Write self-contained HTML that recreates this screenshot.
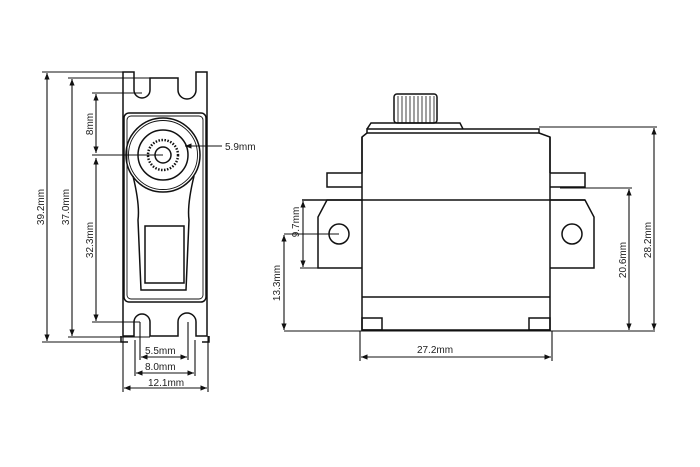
<!DOCTYPE html>
<html><head><style>body{margin:0;background:#fff}svg{display:block}text{font-family:"Liberation Sans",sans-serif;font-size:10px;fill:#222}</style></head>
<body>
<svg width="700" height="467" viewBox="0 0 700 467" xmlns="http://www.w3.org/2000/svg">
<defs><marker id="a" viewBox="0 0 10 10" refX="10" refY="5" markerWidth="6" markerHeight="6" orient="auto-start-reverse"><path d="M0,1 L10,5 L0,9 z" fill="#111"/></marker></defs>
<g fill="none" stroke="#111" stroke-width="1.5">
<!-- LEFT VIEW plate -->
<path d="M123,72 H134 V90 A8,8 0 1 0 150,90 V78 H178 V90 A9,9 0 1 0 196,90 V72 H207 V336 H196 V322 A9,9 0 1 0 178,322 V336 H150 V322 A8,8 0 1 0 134,322 V336 H123 Z"/>
<path d="M121,336 V342 H128 M209,336 V342 H202"/>
<rect x="124" y="113" width="82" height="189" rx="5"/>
<rect x="127" y="116" width="76" height="183" rx="4" stroke-width="0.9"/>
<circle cx="163" cy="155" r="37"/>
<circle cx="163" cy="155" r="34.5" stroke-width="0.9"/>
<circle cx="163" cy="155" r="25"/>
<circle cx="163" cy="155" r="15" stroke-width="2.5" stroke-dasharray="1.5 1.5"/>
<circle cx="163" cy="155" r="8"/>
<path d="M133,176 Q140,205 138,220 L141,290 H186 L189,220 Q187,205 194,176"/>
<rect x="145" y="226" width="39" height="57"/>
<!-- left dims -->
<g stroke-width="1.1">
<path d="M42,72 H130 M42,342 H128 M68,78 H153 M68,337 H150 M92,93 H142 M92,155 H163 M92,322 H140"/>
<path d="M47,73 V341" marker-start="url(#a)" marker-end="url(#a)"/>
<path d="M72,79 V336" marker-start="url(#a)" marker-end="url(#a)"/>
<path d="M96,94 V153" marker-start="url(#a)" marker-end="url(#a)"/>
<path d="M96,158 V321" marker-start="url(#a)" marker-end="url(#a)"/>
<path d="M222,146 H185" marker-end="url(#a)"/>
<path d="M140,322 V360 M188,322 V360 M135,340 V376 M195,340 V376 M123,336 V392 M208,336 V392"/>
<path d="M141,357 H187" marker-start="url(#a)" marker-end="url(#a)"/>
<path d="M136,373 H194" marker-start="url(#a)" marker-end="url(#a)"/>
<path d="M124,388 H207" marker-start="url(#a)" marker-end="url(#a)"/>
</g>
<!-- RIGHT VIEW -->
<rect x="394" y="94" width="43" height="29" rx="3"/>
<path d="M398,96 V123 M402,96 V123 M406,96 V123 M410,96 V123 M414,96 V123 M418,96 V123 M422,96 V123 M426,96 V123 M430,96 V123 M434,96 V123" stroke-width="0.8"/>
<path d="M367,129 L371,123 H460 L463,129"/>
<path d="M367,129 H539 V133 H367 Z"/>
<path d="M362,173 V137 L367,133 M539,133 L550,137 V173"/>
<path d="M362,173 H327 V187 H362 M550,173 H585 V187 H550"/>
<path d="M362,137 V331 M550,137 V331 M362,330 H550 M362,297 H550 M302,200 H585"/>
<path d="M362,200 H327 L318,217 V268 H362 M550,200 H585 L594,217 V268 H550"/>
<circle cx="339" cy="234" r="10"/>
<circle cx="572" cy="234" r="10"/>
<rect x="362" y="318" width="20" height="12"/>
<rect x="529" y="318" width="21" height="12"/>
<!-- right dims -->
<g stroke-width="1.1">
<path d="M284,331 H655 M539,127 H657 M560,188 H632 M300,268 H338 M284,234 H339"/>
<path d="M360,331 V361 M552,331 V361"/>
<path d="M361,357 H551" marker-start="url(#a)" marker-end="url(#a)"/>
<path d="M654,128 V330" marker-start="url(#a)" marker-end="url(#a)"/>
<path d="M629,189 V330" marker-start="url(#a)" marker-end="url(#a)"/>
<path d="M303,201 V267" marker-start="url(#a)" marker-end="url(#a)"/>
<path d="M284,235 V330" marker-start="url(#a)" marker-end="url(#a)"/>
</g>
</g>
<g>
<text x="225" y="150">5.9mm</text>
<text x="145" y="354">5.5mm</text>
<text x="145" y="370">8.0mm</text>
<text x="148" y="386">12.1mm</text>
<text x="435" y="353" text-anchor="middle">27.2mm</text>
<text transform="translate(44,207) rotate(-90)" text-anchor="middle">39.2mm</text>
<text transform="translate(69,207) rotate(-90)" text-anchor="middle">37.0mm</text>
<text transform="translate(93,124) rotate(-90)" text-anchor="middle">8mm</text>
<text transform="translate(93,240) rotate(-90)" text-anchor="middle">32.3mm</text>
<text transform="translate(299,222) rotate(-90)" text-anchor="middle">9.7mm</text>
<text transform="translate(280,283) rotate(-90)" text-anchor="middle">13.3mm</text>
<text transform="translate(626,260) rotate(-90)" text-anchor="middle">20.6mm</text>
<text transform="translate(651,240) rotate(-90)" text-anchor="middle">28.2mm</text>
</g>
</svg>
</body></html>
